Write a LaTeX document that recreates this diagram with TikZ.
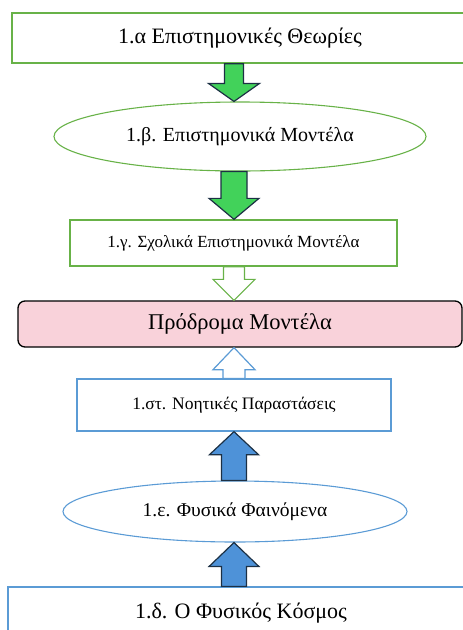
\documentclass[tikz,border=0pt]{standalone}
\usepackage{fontspec}
\setmainfont{Liberation Serif}
\usetikzlibrary{calc, shapes, positioning}
\definecolor{grnline}{RGB}{104,178,72}
\definecolor{grnfill}{RGB}{66,210,90}
\definecolor{bluline}{RGB}{91,155,213}
\definecolor{blufill}{RGB}{78,146,216}
\definecolor{darkedge}{RGB}{28,48,68}
\definecolor{pinkfill}{RGB}{249,210,218}

\newcommand{\blockarrow}[6]{%
  \draw[#1] ($(#2)+(-#4,0)$) -- ($(#3)!#6!(#2)+(-#4,0)$) -- ($(#3)!#6!(#2)+(-#5,0)$) -- (#3)
    -- ($(#3)!#6!(#2)+(#5,0)$) -- ($(#3)!#6!(#2)+(#4,0)$) -- ($(#2)+(#4,0)$) -- cycle;}

\tikzset{
  gbox/.style={draw=grnline, line width=1.3pt, rectangle, inner sep=0pt},
  bbox/.style={draw=bluline, line width=1.3pt, rectangle, inner sep=0pt},
  gell/.style={draw=grnline, line width=1.1pt, ellipse, inner sep=0pt},
  bell/.style={draw=bluline, line width=1.1pt, ellipse, inner sep=0pt},
  greenarrow/.style={fill=grnfill, draw=darkedge, line width=1.2pt, line join=miter},
  bluearrow/.style={fill=blufill, draw=darkedge, line width=1.2pt, line join=miter},
  ghollow/.style={fill=white, draw=grnline, line width=1.2pt, line join=miter},
  bhollow/.style={fill=white, draw=bluline, line width=1.2pt, line join=miter}
}

\begin{document}
\begin{tikzpicture}[x=1pt, y=-1pt]
        \useasboundingbox (0,0) rectangle (463,630);
        \clip (0,0) rectangle (463,630);
        \coordinate (ax) at (234,0);

        \node[gbox, minimum width=456pt, minimum height=50pt] (theories) at (240,38) {\fontsize{22}{26}\selectfont 1.α Επιστημονικές Θεωρίες};
        \node[gell, minimum width=372pt, minimum height=69pt] (scimodels) at (240,136.5) {\fontsize{20}{24}\selectfont 1.β. Επιστημονικά Μοντέλα};
        \node[gbox, minimum width=327pt, minimum height=46pt] (schoolmodels) at (233.5,243) {\fontsize{17}{20}\selectfont 1.γ. Σχολικά Επιστημονικά Μοντέλα};

        \node[draw=black, line width=1.3pt, fill=pinkfill, rounded corners=7pt, minimum width=444pt, minimum height=46pt, inner sep=0pt] (premodels) at (240,324) {\fontsize{22.5}{27}\selectfont Πρόδρομα Μοντέλα};

        \node[bbox, minimum width=314pt, minimum height=52pt] (mental) at (234,405) {\fontsize{17.5}{21}\selectfont 1.στ. Νοητικές Παραστάσεις};
        \node[bell, minimum width=344pt, minimum height=61pt] (phenomena) at (235,511.5) {\fontsize{19.5}{23}\selectfont 1.ε. Φυσικά Φαινόμενα};
        \node[bbox, minimum width=466pt, minimum height=52pt] (world) at (241,613) {\fontsize{22}{26}\selectfont 1.δ. Ο Φυσικός Κόσμος};

        \blockarrow{greenarrow}{theories.south -| ax}{scimodels.north -| ax}{9.5}{25.5}{18pt}
        \blockarrow{greenarrow}{scimodels.south -| ax}{schoolmodels.north -| ax}{13}{25}{21pt}
        \blockarrow{ghollow}{schoolmodels.south -| ax}{premodels.north -| ax}{10.5}{21}{21pt}

        \blockarrow{bhollow}{mental.north -| ax}{premodels.south -| ax}{11}{21}{22pt}
        \blockarrow{bluearrow}{phenomena.north -| ax}{mental.south -| ax}{12.5}{24.5}{23pt}
        \blockarrow{bluearrow}{world.north -| ax}{phenomena.south -| ax}{12.5}{25}{24pt}

      \end{tikzpicture}
\end{document}
